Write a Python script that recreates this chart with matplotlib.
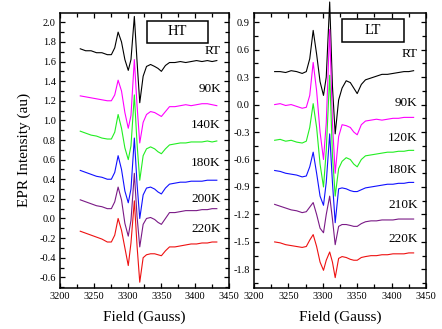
import matplotlib
matplotlib.use("Agg")
from matplotlib import pyplot as plt
from matplotlib.patches import Rectangle
from matplotlib.ticker import MultipleLocator

plt.rcParams['font.family'] = ['Liberation Serif', 'DejaVu Serif']

# field grid (Gauss), shared by all traces
FIELD = [3230, 3238, 3246, 3254, 3262, 3270, 3276, 3281, 3286, 3291, 3296, 3301, 3305,
         3310, 3314, 3318, 3323, 3328, 3334, 3340, 3345, 3350, 3356, 3362, 3370, 3378,
         3386, 3394, 3402, 3410, 3418, 3425, 3432]

# HT panel
HT_LABELS = ["RT", "90K", "140K", "180K", "200K", "220K"]
HT_RT = [1.73, 1.71, 1.71, 1.69, 1.69, 1.67, 1.67, 1.74, 1.90, 1.80, 1.62, 1.51, 1.62,
         2.06, 1.60, 1.18, 1.45, 1.55, 1.57, 1.55, 1.53, 1.50, 1.56, 1.59, 1.59, 1.60,
         1.59, 1.60, 1.61, 1.60, 1.61, 1.60, 1.61]
HT_90 = [1.25, 1.24, 1.23, 1.22, 1.21, 1.20, 1.20, 1.26, 1.41, 1.30, 1.08, 0.92, 1.05,
         1.62, 1.15, 0.77, 0.98, 1.06, 1.09, 1.08, 1.06, 1.04, 1.09, 1.14, 1.14, 1.15,
         1.16, 1.15, 1.16, 1.17, 1.17, 1.16, 1.15]
HT_140 = [0.89, 0.87, 0.85, 0.84, 0.82, 0.81, 0.81, 0.88, 1.06, 0.92, 0.72, 0.60, 0.74,
          1.26, 0.76, 0.39, 0.64, 0.71, 0.73, 0.71, 0.68, 0.66, 0.71, 0.75, 0.76, 0.77,
          0.77, 0.78, 0.78, 0.78, 0.79, 0.78, 0.79]
HT_180 = [0.49, 0.47, 0.45, 0.43, 0.42, 0.40, 0.40, 0.47, 0.64, 0.50, 0.28, 0.16, 0.30,
          0.82, 0.35, 0.00, 0.24, 0.31, 0.32, 0.30, 0.27, 0.25, 0.31, 0.35, 0.36, 0.37,
          0.37, 0.38, 0.38, 0.38, 0.39, 0.39, 0.39]
HT_200 = [0.19, 0.17, 0.15, 0.13, 0.12, 0.10, 0.10, 0.17, 0.32, 0.19, -0.05, -0.18, -0.02,
          0.46, 0.02, -0.29, -0.06, 0.00, 0.01, -0.01, -0.04, -0.06, 0.00, 0.06, 0.06, 0.07,
          0.08, 0.08, 0.08, 0.09, 0.09, 0.10, 0.10]
HT_220 = [-0.13, -0.15, -0.17, -0.19, -0.21, -0.24, -0.24, -0.17, 0.00, -0.12, -0.30, -0.48,
          -0.25, 0.18, -0.28, -0.65, -0.40, -0.37, -0.36, -0.36, -0.37, -0.38, -0.33, -0.29,
          -0.29, -0.28, -0.27, -0.26, -0.26, -0.25, -0.25, -0.24, -0.24]
HT_LABEL_Y = [1.71, 1.32, 0.95, 0.57, 0.20, -0.11]

# LT panel
LT_LABELS = ["RT", "90K", "120K", "180K", "210K", "220K"]
LT_RT = [0.36, 0.36, 0.35, 0.37, 0.36, 0.34, 0.36, 0.50, 0.81, 0.55, 0.25, 0.10, 0.30,
         1.12, 0.20, -0.32, 0.05, 0.18, 0.26, 0.24, 0.18, 0.12, 0.22, 0.27, 0.29, 0.31,
         0.33, 0.33, 0.34, 0.35, 0.36, 0.36, 0.37]
LT_90 = [0.00, 0.01, -0.01, 0.00, -0.02, -0.04, -0.03, 0.10, 0.46, 0.15, -0.30, -0.60, -0.20,
         0.82, -0.20, -0.75, -0.35, -0.22, -0.23, -0.25, -0.30, -0.33, -0.22, -0.18, -0.17,
         -0.16, -0.17, -0.16, -0.15, -0.15, -0.14, -0.14, -0.14]
LT_120 = [-0.39, -0.38, -0.40, -0.39, -0.41, -0.42, -0.40, -0.25, 0.01, -0.25, -0.65, -0.90,
          -0.50, 0.32, -0.55, -1.00, -0.70, -0.62, -0.58, -0.60, -0.65, -0.68, -0.60, -0.56,
          -0.55, -0.54, -0.53, -0.52, -0.52, -0.51, -0.51, -0.50, -0.50]
LT_180 = [-0.72, -0.73, -0.75, -0.76, -0.77, -0.79, -0.78, -0.68, -0.52, -0.75, -1.00, -1.10,
          -0.85, -0.32, -0.85, -1.29, -0.92, -0.91, -0.92, -0.94, -0.95, -0.95, -0.93, -0.91,
          -0.90, -0.89, -0.88, -0.87, -0.87, -0.86, -0.86, -0.85, -0.85]
LT_210 = [-1.09, -1.11, -1.13, -1.15, -1.16, -1.18, -1.17, -1.12, -1.07, -1.20, -1.35, -1.40,
          -1.20, -1.00, -1.25, -1.53, -1.33, -1.31, -1.31, -1.32, -1.33, -1.33, -1.30, -1.28,
          -1.27, -1.27, -1.26, -1.26, -1.26, -1.25, -1.25, -1.25, -1.25]
LT_220 = [-1.50, -1.51, -1.53, -1.54, -1.55, -1.56, -1.55, -1.48, -1.42, -1.55, -1.72, -1.81,
          -1.70, -1.61, -1.72, -1.89, -1.68, -1.66, -1.67, -1.69, -1.70, -1.70, -1.67, -1.66,
          -1.65, -1.65, -1.64, -1.64, -1.63, -1.63, -1.63, -1.62, -1.62]
LT_LABEL_Y = [0.55, 0.02, -0.36, -0.72, -1.10, -1.47]

COLORS = ["black", "#ff00ff", "#22ee22", "#1010ff", "#7a1a86", "#ee1111"]


def style_axes(ax, ymin, ymax, major, minor):
    ax.set_xlim(3200, 3450)
    ax.set_ylim(ymin, ymax)
    ax.xaxis.set_major_locator(MultipleLocator(50))
    ax.xaxis.set_minor_locator(MultipleLocator(25))
    ax.yaxis.set_major_locator(MultipleLocator(major))
    ax.yaxis.set_minor_locator(MultipleLocator(minor))
    ax.tick_params(which='both', direction='in', top=True, right=True, labelsize=7.5, width=0.9)
    ax.tick_params(which='major', length=3.5, pad=3)
    ax.tick_params(which='minor', length=3)
    for s in ax.spines.values():
        s.set_linewidth(1.1)
    ax.set_xlabel("Field (Gauss)", fontsize=11, labelpad=7)


def draw_panel(ax, series, labels, label_y, title, box):
    for ys, c in zip(series, COLORS):
        ax.plot(FIELD, ys, color=c, lw=0.8, clip_on=False)
    for lab, ly in zip(labels, label_y):
        ax.text(3438, ly, lab, ha='right', va='center', fontsize=9.5)
    x0, y0, x1, y1 = box
    ax.add_patch(Rectangle((x0, y0), x1 - x0, y1 - y0, transform=ax.transAxes,
                           fill=False, lw=1.1, ec='black'))
    ax.text((x0 + x1) / 2, (y0 + y1) / 2, title, transform=ax.transAxes,
            ha='center', va='center', fontsize=10.5)


fig = plt.figure(figsize=(4.42, 3.29), dpi=100)
ax1 = fig.add_axes([0.1357, 0.1255, 0.3824, 0.835])
ax2 = fig.add_axes([0.5747, 0.1255, 0.3891, 0.835])

style_axes(ax1, -0.706, 2.095, 0.2, 0.1)
style_axes(ax2, -2.0, 1.0, 0.3, 0.15)
ax1.yaxis.set_major_formatter(matplotlib.ticker.FormatStrFormatter('%.1f'))
ax2.yaxis.set_major_formatter(matplotlib.ticker.FormatStrFormatter('%.1f'))

draw_panel(ax1, [HT_RT, HT_90, HT_140, HT_180, HT_200, HT_220], HT_LABELS, HT_LABEL_Y,
           "HT", (0.513, 0.892, 0.878, 0.972))
draw_panel(ax2, [LT_RT, LT_90, LT_120, LT_180, LT_210, LT_220], LT_LABELS, LT_LABEL_Y,
           "LT", (0.512, 0.896, 0.874, 0.977))

ax1.set_ylabel("EPR Intensity (au)", fontsize=11, labelpad=6)

fig.savefig("out.png", dpi=100)
